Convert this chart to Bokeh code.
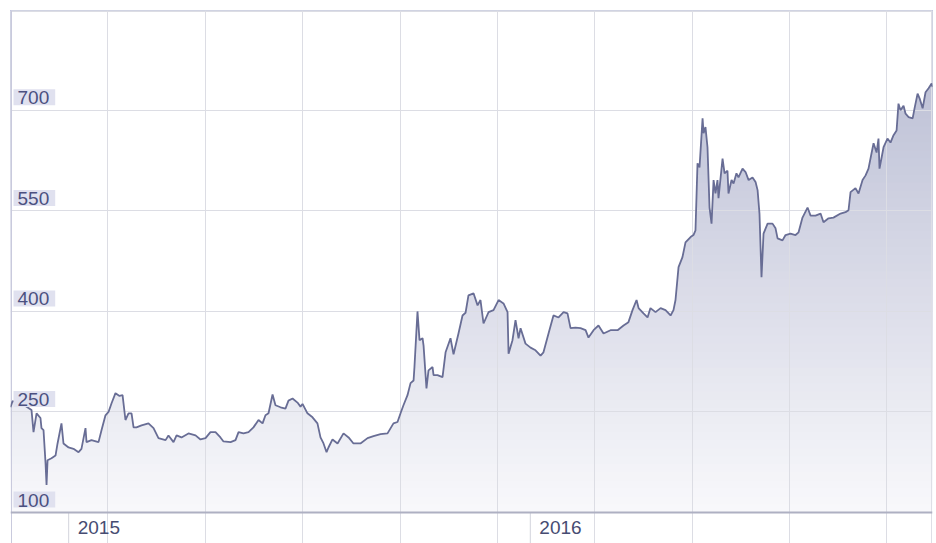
import numpy as np
import pandas as pd
from bokeh.plotting import figure
from bokeh.models import FixedTicker, Range1d, Label, ColumnDataSource, Grid, Span
from bokeh.embed import file_html
from bokeh.resources import INLINE

# ---------------- data ----------------
start_date = "2014-11-16"
end_date = "2016-11-14"

# days since start_date
days = [0.0, 1.6, 9.5, 16.6, 18.2, 20.6, 23.7, 24.5, 26.1, 27.7, 28.5, 29.3, 32.4, 35.6,
        37.2, 40.3, 41.9, 45.9, 49.8, 53.8, 56.1, 59.3, 60.1, 64.0, 69.6, 72.0, 75.1, 77.5,
        79.9, 83.0, 86.2, 88.6, 90.9, 93.3, 95.7, 97.3, 99.6, 103.6, 109.1, 113.1, 117.0,
        122.6, 124.9, 128.9, 131.3, 135.2, 140.7, 146.3, 150.2, 154.2, 158.1, 162.1, 166.0,
        168.4, 174.0, 177.9, 180.3, 184.2, 188.2, 192.1, 196.1, 199.3, 201.6, 204.0, 207.2,
        209.5, 213.5, 217.4, 219.8, 223.0, 226.9, 229.3, 230.9, 234.8, 238.8, 242.7, 245.1,
        247.5, 249.9, 251.4, 254.6, 258.6, 263.3, 267.3, 271.2, 276.7, 282.3, 287.0, 292.6,
        298.1, 302.8, 306.0, 308.4, 310.7, 313.9, 316.3, 318.7, 319.4, 321.8, 323.4, 325.8,
        326.6, 328.9, 330.5, 333.7, 334.5, 337.6, 341.6, 344.0, 347.9, 350.3, 354.2, 357.4,
        359.8, 362.1, 366.1, 369.3, 371.6, 374.0, 378.0, 381.9, 385.9, 389.8, 393.0, 393.8,
        396.9, 399.3, 401.7, 403.3, 407.2, 411.2, 415.1, 419.1, 421.4, 425.4, 429.3, 433.3,
        437.3, 440.4, 442.8, 446.7, 450.7, 454.7, 457.0, 461.0, 464.9, 468.9, 474.4, 480.0,
        484.7, 488.6, 491.8, 495.0, 496.6, 500.5, 503.7, 506.0, 510.0, 514.0, 517.9, 521.9,
        524.2, 525.8, 528.2, 531.3, 533.7, 537.7, 540.0, 541.6, 543.2, 544.8, 547.2, 548.0,
        549.5, 551.1, 552.7, 554.3, 555.9, 557.4, 559.0, 559.8, 563.0, 564.6, 566.9, 567.7,
        570.1, 571.7, 574.0, 575.6, 578.8, 581.2, 583.6, 586.7, 589.1, 590.7, 592.2, 593.8,
        595.4, 598.6, 602.5, 604.9, 606.5, 610.4, 612.8, 616.7, 620.7, 623.1, 626.2, 630.2,
        632.6, 636.5, 640.5, 642.8, 646.8, 650.7, 656.3, 660.2, 662.6, 664.2, 668.1, 670.5,
        673.7, 676.1, 678.4, 680.8, 682.4, 684.8, 686.3, 687.1, 690.3, 693.4, 695.8, 698.2,
        700.6, 702.1, 703.7, 706.1, 707.7, 710.1, 713.3, 714.8, 717.2, 718.8, 721.2, 723.5,
        725.9, 728.3, 729.0]

price = [257, 266, 262, 253, 220, 248, 241, 226, 223, 174, 141, 178, 181, 185,
         203, 233, 203, 197, 195, 190, 195, 226, 205, 208, 205, 223, 245, 250,
         263, 278, 274, 275, 238, 248, 248, 227, 227, 230, 233, 226, 211,
         208, 215, 205, 215, 212, 218, 215, 209, 211, 220, 220, 212,
         206, 205, 208, 220, 218, 220, 227, 238, 233, 245, 248, 276,
         260, 257, 255, 267, 270, 264, 258, 262, 248, 242, 233, 212,
         203, 190, 197, 209, 203, 218, 212, 203, 203, 211, 214, 217,
         218, 233, 235, 248, 260, 275, 293, 297, 317, 400, 357, 360,
         349, 285, 312, 317, 305, 305, 302, 339, 360, 336, 367, 394,
         398, 424, 427, 409, 417, 382, 399, 402, 417, 412, 399, 337,
         357, 387, 360, 375, 352, 346, 342, 334, 339, 367, 394, 391,
         399, 397, 375, 376, 375, 372, 361, 372, 379, 367, 372, 372,
         379, 384, 402, 417, 405, 397, 391, 405, 399, 405, 402, 394,
         402, 417, 466, 481, 503, 511, 514, 521, 621, 615, 688, 666,
         675, 645, 555, 531, 596, 576, 596, 569, 628, 606, 610, 576,
         596, 591, 606, 600, 613, 608, 596, 600, 593, 581, 546, 451,
         516, 531, 531, 524, 509, 506, 514, 516, 514, 518, 540, 555,
         543, 543, 546, 533, 539, 540, 546, 548, 551, 578, 584, 576,
         596, 603, 613, 636, 651, 637, 658, 613, 645, 658, 652, 663,
         670, 710, 700, 707, 695, 690, 688, 703, 725, 718, 703, 727,
         733, 740, 735]

y_tick_values = [100, 250, 400, 550, 700]
y_tick_labels = ["100", "250", "400", "550", "700"]
y_grid_values = [250, 400, 550, 700]
year_tick_dates = ["2015-01-01", "2016-01-01"]
year_tick_labels = ["2015", "2016"]
x_grid_dates = ["2015-02-01", "2015-04-19", "2015-07-05", "2015-09-20", "2015-12-06",
                "2016-02-21", "2016-05-08", "2016-07-24", "2016-10-09"]
y_base, y_max = 100, 849

# ---------------- layout constants ----------------
W, H = 936, 543
LEFT, RIGHT, TOP = 10, 4, 10
AXIS_PX = 31                      # space under the value axis for the year ticks/labels
plot_px = H - TOP - AXIS_PX       # height of the value area in pixels
px_per_unit = plot_px / (y_max - y_base)
y_bottom = y_base - AXIS_PX / px_per_unit

start = pd.Timestamp(start_date)
end = pd.Timestamp(end_date)
dates = start + pd.to_timedelta(days, unit="D")


def ms(t):
    return pd.Timestamp(t).value / 1e6


p = figure(width=W, height=H, x_axis_type="datetime",
           x_range=Range1d(ms(start), ms(end)), y_range=Range1d(y_bottom, y_max),
           output_backend="svg", toolbar_location=None,
           min_border_left=LEFT, min_border_right=RIGHT, min_border_top=TOP, min_border_bottom=0)
p.background_fill_color = "white"
p.border_fill_color = "white"
p.outline_line_color = None
p.xaxis.visible = False
p.yaxis.visible = False

grid_color = "#dcdde4"
p.xgrid.ticker = FixedTicker(ticks=[ms(d) for d in x_grid_dates], minor_ticks=[])
p.xgrid.bounds = (y_base, y_max)
p.ygrid.ticker = FixedTicker(ticks=y_grid_values + [y_max - 0.8], minor_ticks=[])
for g in (p.xgrid[0], p.ygrid[0]):
    g.grid_line_color = grid_color
    g.grid_line_width = 1

# left frame edge (only over the value area) and right frame edge (full height)
p.add_layout(Grid(dimension=0, ticker=FixedTicker(ticks=[ms(start) + 0.8 * 86400000], minor_ticks=[]),
                  bounds=(y_base, y_max), grid_line_color="#c9cadd", grid_line_width=1))
p.add_layout(Grid(dimension=0, ticker=FixedTicker(ticks=[ms(end) - 0.8 * 86400000], minor_ticks=[]),
                  grid_line_color="#dedfe6", grid_line_width=1))

# vertical gradient under the series (masked with white above the series)
c_low = np.array([0xf8, 0xf8, 0xfb])
c_high = np.array([0xbf, 0xc2, 0xd7])
band_lo = np.arange(y_base, y_max, 12)
cols = []
for b in band_lo:
    t = min(max((b - y_base) / (730 - y_base), 0), 1)
    c = (c_low + (c_high - c_low) * t).round().astype(int)
    cols.append("#%02x%02x%02x" % tuple(c))
grad = ColumnDataSource(dict(left=[ms(start)] * len(band_lo), right=[ms(end)] * len(band_lo),
                             bottom=list(band_lo), top=[y_max] * len(band_lo), color=cols))
p.quad(left="left", right="right", bottom="bottom", top="top", fill_color="color",
       line_color=None, source=grad, level="image")

src = ColumnDataSource(dict(date=dates, price=price, top=[y_max] * len(price)))
p.varea(x="date", y1="price", y2="top", fill_color="white", source=src, level="image")
p.line(x="date", y="price", line_color="#686d95", line_width=1.8, source=src)

# value axis line
p.add_layout(Span(location=y_base, dimension="width", line_color="#aeb0c2", line_width=2))

# year ticks hanging below the value axis
yt = ColumnDataSource(dict(x=[ms(d) for d in year_tick_dates],
                           y0=[y_base] * len(year_tick_dates),
                           y1=[y_bottom] * len(year_tick_dates)))
p.segment(x0="x", y0="y0", x1="x", y1="y1", line_color="#d3d4dc", line_width=1, source=yt)

# y tick labels inside the plot
for v, txt in zip(y_tick_values, y_tick_labels):
    p.add_layout(Label(x=ms(start), y=v, x_offset=3, y_offset=5, text=txt,
                       text_font="Liberation Sans", text_font_size="19px",
                       text_color="#4b5080", text_baseline="bottom", text_align="left",
                       background_fill_color="#e0e1ef", background_fill_alpha=1.0,
                       padding=dict(left=4, right=6, top=2, bottom=1)))

# year labels to the right of the year ticks
for d, txt in zip(year_tick_dates, year_tick_labels):
    p.add_layout(Label(x=ms(d), y=y_base, x_offset=9, y_offset=-21, text=txt,
                       text_font="Liberation Sans", text_font_size="19px",
                       text_color="#474c72", text_baseline="bottom", text_align="left"))

open("out.html", "w").write(file_html(p, INLINE))
